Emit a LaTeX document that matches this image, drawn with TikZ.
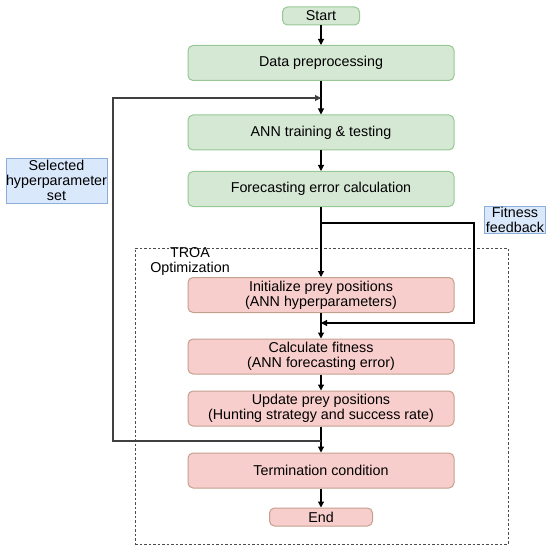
\documentclass[tikz,border=0pt]{standalone}
\usepackage{fontspec}
\setmainfont{Liberation Sans}
\usetikzlibrary{arrows.meta}

\definecolor{stepgreen}{HTML}{D5E8D4}
\definecolor{stepgreenborder}{HTML}{97C795}
\definecolor{stepred}{HTML}{F8CECC}
\definecolor{stepredborder}{HTML}{C4A08F}
\definecolor{notefill}{HTML}{DAE8FC}
\definecolor{noteborder}{HTML}{8CAFD9}

\begin{document}
\begin{tikzpicture}[
    x=1pt, y=-1pt,
    font=\fontsize{14.3}{15}\selectfont,
    greenbox/.style={rectangle, rounded corners=5pt, draw=stepgreenborder, line width=1pt,
                     fill=stepgreen, minimum width=266pt, minimum height=35pt,
                     inner sep=0pt, align=center},
    redbox/.style={rectangle, rounded corners=5pt, draw=stepredborder, line width=1pt,
                   fill=stepred, minimum width=266pt, minimum height=35pt,
                   inner sep=0pt, align=center},
    note/.style={rectangle, draw=noteborder, line width=0.8pt, fill=notefill,
                 inner sep=0pt, align=center},
    frame/.style={rectangle, draw=black!70, line width=1pt, dash pattern=on 2.5pt off 2pt,
                  minimum width=373pt, minimum height=296pt, inner sep=0pt},
    conn/.style={-{Triangle[length=6pt, width=6pt]}, line width=1.1pt, black},
    loopline/.style={-{Triangle[length=6pt, width=6pt]}, line width=1.1pt, black!75},
    lbl/.style={align=center, inner sep=0pt},
]
\useasboundingbox (0,0) rectangle (550,553);

% === Main flow ===
\def\xc{321}

% --- Preparation stage (green) ---
\node[greenbox, minimum width=77pt, minimum height=18pt] (start) at (\xc,16) {Start};
\node[greenbox] (prep) at (\xc,63) {Data preprocessing};
\node[greenbox] (ann) at (\xc,132.5) {ANN training \& testing};
\node[greenbox] (fore) at (\xc,189) {Forecasting error calculation};

% --- TROA optimization stage (red) ---
\node[frame] (troabox) at (321.5,396) {};
\node[lbl] (troalbl) at (190,261) {TROA\\Optimization};

\node[redbox] (init) at (\xc,295) {Initialize prey positions\\(ANN hyperparameters)};
\node[redbox] (calc) at (\xc,356.5) {Calculate fitness\\(ANN forecasting error)};
\node[redbox] (upd) at (\xc,408.5) {Update prey positions\\(Hunting strategy and success rate)};
\node[redbox] (term) at (\xc,470.5) {Termination condition};
\node[redbox, minimum width=103pt, minimum height=18pt] (stop) at (\xc,517) {End};

% --- Side notes ---
\node[note, minimum width=101pt, minimum height=45pt] (selnote) at (56.5,180.5)
    {Selected\\hyperparameter\\set};
\node[note, minimum width=61pt, minimum height=27pt] (fitnote) at (515,219.5)
    {Fitness\\feedback};

% --- Connections ---
\draw[conn] (start) -- (prep);
\draw[conn] (prep) -- (ann);
\draw[conn] (ann) -- (fore);
\draw[conn] (fore) -- (init);
\draw[conn] (init) -- (calc);
\draw[conn] (calc) -- (upd);
\draw[conn] (upd) -- (term);
\draw[conn] (term) -- (stop);

% Fitness feedback loop
\coordinate (fbsplit) at (\xc,223);
\coordinate (fbcorner) at (474,223);
\coordinate (fbjoin) at (\xc,323);
\draw[conn] (fbsplit) -- (fbcorner) |- (fbjoin);

% Selected hyperparameter loop
\coordinate (loopsplit) at (\xc,441);
\coordinate (loopcorner) at (113,441);
\coordinate (loopjoin) at (\xc,98);
\draw[loopline] (loopsplit) -- (loopcorner) |- (loopjoin);

\end{tikzpicture}
\end{document}
